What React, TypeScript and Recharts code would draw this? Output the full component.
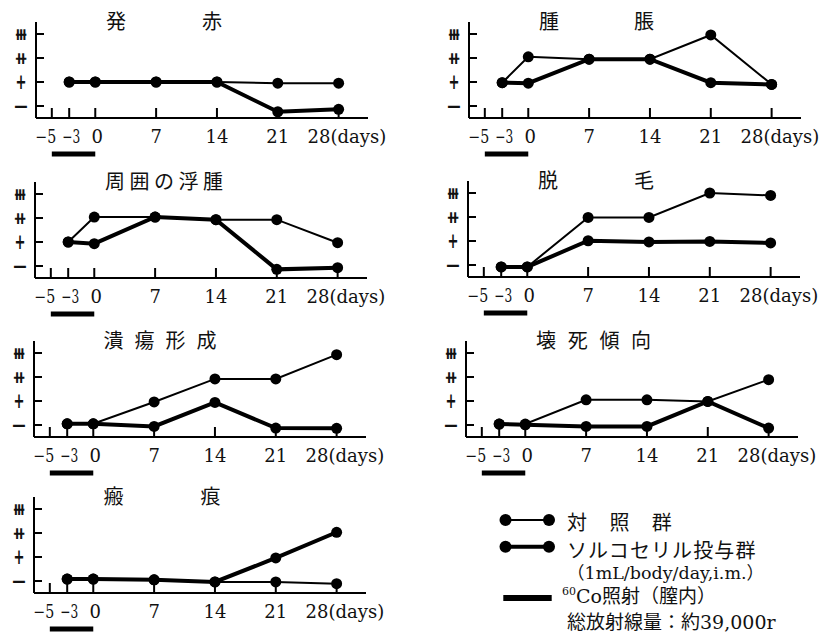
import { Line, LineChart, ReferenceLine, XAxis, YAxis } from "recharts";

// observation days and axis ticks
const days = [-3, 0, 7, 14, 21, 28];
const dayTicks = [-5, -3, 0, 7, 14, 21, 28];
const gradeTicks = [0, 1, 2, 3];
const gradeLabels = ["−", "+", "⧺", "⧻"];
const irradiationDays = [-5, 0];
const irradiationLevel = -2;

const titles = ["発赤", "腫脹", "周囲の浮腫", "脱毛", "潰瘍形成", "壊死傾向", "瘢痕"];

// grade per day: 0 = −, 1 = +, 2 = ++, 3 = +++
const rednessControl = [1.0, 1.0, 1.0, 1.0, 0.95, 0.95];
const rednessTreated = [1.0, 1.0, 1.0, 1.0, -0.24, -0.14];
const swellingControl = [0.97, 2.05, 1.95, 1.95, 2.96, 0.9];
const swellingTreated = [0.97, 0.95, 1.95, 1.95, 0.97, 0.9];
const edemaControl = [1.0, 2.04, 2.04, 1.93, 1.93, 0.97];
const edemaTreated = [1.0, 0.93, 2.04, 1.93, -0.14, -0.07];
const hairLossControl = [-0.08, -0.08, 1.98, 1.98, 3.0, 2.9];
const hairLossTreated = [-0.08, -0.08, 1.01, 0.96, 0.98, 0.92];
const ulcerControl = [0.05, 0.05, 0.96, 1.92, 1.92, 2.93];
const ulcerTreated = [0.05, 0.05, -0.06, 0.94, -0.13, -0.14];
const necrosisControl = [0.04, 0.04, 1.05, 1.05, 0.98, 1.89];
const necrosisTreated = [0.04, 0.01, -0.06, -0.06, 0.98, -0.13];
const scarControl = [0.08, 0.08, 0.05, -0.04, -0.04, -0.11];
const scarTreated = [0.08, 0.08, 0.05, -0.04, 0.96, 2.03];

const controls = [rednessControl, swellingControl, edemaControl, hairLossControl, ulcerControl, necrosisControl, scarControl];
const treateds = [rednessTreated, swellingTreated, edemaTreated, hairLossTreated, ulcerTreated, necrosisTreated, scarTreated];

// panel placement (y-axis x, x-axis y) and title letter spacing
const panelPos = [
  [36, 118],
  [469, 118],
  [35, 278],
  [468, 277],
  [33.5, 437],
  [466, 437],
  [33.5, 593],
];
const titleSpacing = [76, 75, 4.5, 76, 11, 11.7, 77];

const JP = "'Noto Sans CJK JP', sans-serif";
const SERIF = "'DejaVu Serif', 'Noto Sans CJK JP', serif";
const INK = "#111";

// small nudges so the crowded labels near day 0 read like the original
const dayLabelShift: Record<number, number> = { [-5]: -6, [-3]: 2, 0: 2 };
const dayLabelWidth: Record<number, number> = { [-5]: 21, [-3]: 18 };

function DayTick(props: any) {
  const { x, y, payload } = props;
  const v = payload.value as number;
  const label = v < 0 ? `−${-v}` : `${v}`;
  return (
    <g>
      <line x1={x} y1={y} x2={x} y2={y - 10} stroke="#000" strokeWidth={2} />
      {v === 28 ? (
        <text x={x - 31} y={y + 25} fontFamily={SERIF} fontSize={18} fill={INK}>
          28(days)
        </text>
      ) : (
        <text
          x={x + (dayLabelShift[v] ?? 0)}
          y={y + 25}
          textAnchor="middle"
          fontFamily={SERIF}
          fontSize={18}
          fill={INK}
          textLength={dayLabelWidth[v]}
          lengthAdjust={dayLabelWidth[v] ? "spacingAndGlyphs" : undefined}
        >
          {label}
        </text>
      )}
    </g>
  );
}

const gradeWidths = [16, 11, 14, 14];
const gradeSizes = [20, 21, 17, 17];
const gradeDy = [7, 7, 6, 6];

function GradeTick(props: any) {
  const { x, y, payload } = props;
  const i = payload.value as number;
  return (
    <g>
      <line x1={x} y1={y} x2={x + 8} y2={y} stroke="#000" strokeWidth={2} />
      <text
        x={x - 15}
        y={y + gradeDy[i]}
        textAnchor="middle"
        fontFamily="'DejaVu Sans', sans-serif"
        fontWeight="bold"
        fontSize={gradeSizes[i]}
        textLength={gradeWidths[i]}
        lengthAdjust="spacingAndGlyphs"
        fill={INK}
      >
        {gradeLabels[i]}
      </text>
    </g>
  );
}

function Panel({ index }: { index: number }) {
  const [axisX, axisY] = panelPos[index];
  const control = controls[index];
  const treated = treateds[index];
  const data = days.map((d, i) => ({ day: d, control: control[i], treated: treated[i] }));
  const dot = { r: 5.5, fill: "#000", stroke: "none" };

  return (
    <div style={{ position: "absolute", left: axisX - 40, top: axisY - 106 }}>
      <LineChart width={400} height={148} data={data} margin={{ top: 10, right: 28, bottom: 0, left: 0 }}>
        <XAxis
          dataKey="day"
          type="number"
          domain={[-6.82, 31.38]}
          allowDataOverflow
          ticks={dayTicks}
          interval={0}
          height={42}
          tickSize={0}
          tickMargin={0}
          tickLine={false}
          axisLine={{ stroke: "#000", strokeWidth: 2 }}
          tick={DayTick}
        />
        <YAxis
          type="number"
          domain={[-0.5, 3.5]}
          allowDataOverflow
          ticks={gradeTicks}
          interval={0}
          width={40}
          tickSize={0}
          tickMargin={0}
          tickLine={false}
          axisLine={{ stroke: "#000", strokeWidth: 2 }}
          tick={GradeTick}
        />
        <ReferenceLine
          segment={[
            { x: irradiationDays[0], y: irradiationLevel },
            { x: irradiationDays[1], y: irradiationLevel },
          ]}
          stroke="#000"
          strokeWidth={5}
          ifOverflow="visible"
        />
        <Line dataKey="control" stroke="#000" strokeWidth={2} dot={dot} activeDot={false} isAnimationActive={false} />
        <Line dataKey="treated" stroke="#000" strokeWidth={4} dot={dot} activeDot={false} isAnimationActive={false} />
      </LineChart>
      <div
        style={{
          position: "absolute",
          left: 110,
          top: -1,
          fontFamily: JP,
          fontSize: 20,
          lineHeight: "20px",
          letterSpacing: titleSpacing[index],
          whiteSpace: "nowrap",
          color: INK,
        }}
      >
        {titles[index]}
      </div>
    </div>
  );
}

function LegendBlock() {
  return (
    <svg width={340} height={127} style={{ position: "absolute", left: 490, top: 505 }}>
      <line x1={15.5} y1={15} x2={59} y2={15} stroke="#000" strokeWidth={2} />
      <circle cx={15.5} cy={15} r={6} fill="#000" />
      <circle cx={59} cy={15} r={6} fill="#000" />
      <text x={77} y={25} fontFamily={SERIF} fontSize={20} letterSpacing={1.2} fill={INK}>
        対　照　群
      </text>

      <line x1={15.5} y1={41.7} x2={59} y2={41.7} stroke="#000" strokeWidth={4} />
      <circle cx={15.5} cy={41.7} r={6} fill="#000" />
      <circle cx={59} cy={41.7} r={6} fill="#000" />
      <text x={77} y={52.6} fontFamily={SERIF} fontSize={20} letterSpacing={1.1} fill={INK}>
        ソルコセリル投与群
      </text>
      <text x={77} y={74.3} fontFamily={SERIF} fontSize={17.5} fill={INK}>
        （1mL/body/day,i.m.）
      </text>

      <line x1={13.3} y1={93} x2={61.7} y2={93} stroke="#000" strokeWidth={6} />
      <text x={72} y={98} fontFamily={SERIF} fontSize={19} fill={INK}>
        <tspan fontSize={11} dy={-8}>
          60
        </tspan>
        <tspan dy={8}>Co照射（膣内）</tspan>
      </text>
      <text x={77} y={124} fontFamily={SERIF} fontSize={19} fill={INK}>
        総放射線量：約39,000r
      </text>
    </svg>
  );
}

export default function App() {
  return (
    <div
      style={{
        position: "absolute",
        left: 0,
        top: 0,
        width: 830,
        height: 632,
        overflow: "hidden",
        background: "#fff",
      }}
    >
      {titles.map((t, i) => (
        <Panel key={t} index={i} />
      ))}
      <LegendBlock />
    </div>
  );
}
